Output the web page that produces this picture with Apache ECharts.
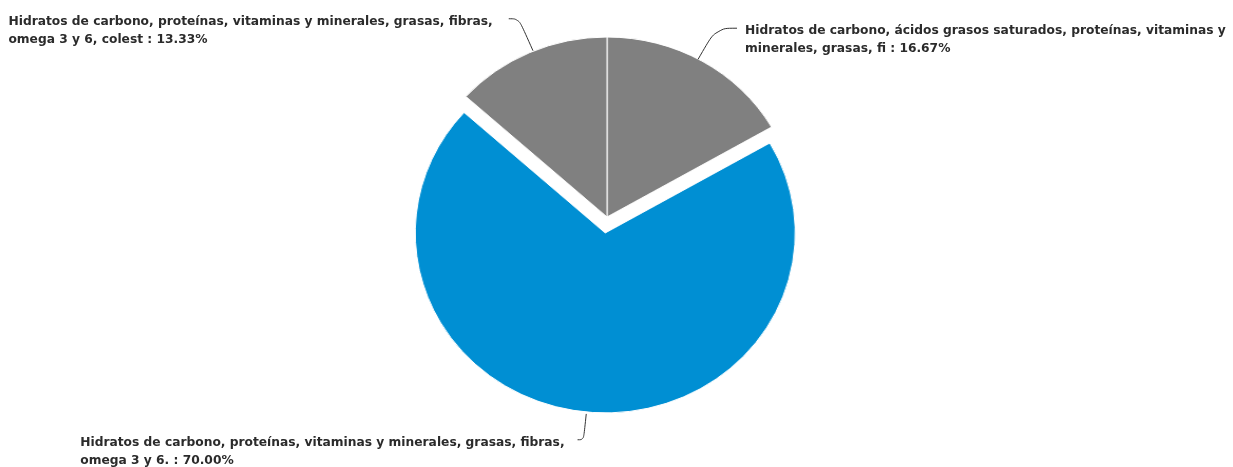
<!DOCTYPE html>
<html>
<head>
<meta charset="utf-8">
<script src="https://cdn.jsdelivr.net/npm/echarts@6/dist/echarts.min.js"></script>
<style>
    html, body {margin: 0; padding: 0; background: #ffffff;}
    .wrap {position: relative; width: 1233px; height: 467px;}
    .layer {position: absolute; left: 0; top: 0; width: 1233px; height: 467px;}
    /* 原图的饼是横向拉伸的椭圆 */
    #pieLayer {transform: scaleX(1.0556); transform-origin: 607px 0;}
</style>
</head>
<body>
<div class="wrap">
    <div id="pieLayer" class="layer"></div>
    <div id="labelLayer" class="layer"></div>
</div>
<script>
    //数据：从顶部开始顺时针
    var names = [
        "Hidratos de carbono, ácidos grasos saturados, proteínas, vitaminas y\nminerales, grasas, fi",
        "Hidratos de carbono, proteínas, vitaminas y minerales, grasas, fibras,\nomega 3 y 6.",
        "Hidratos de carbono, proteínas, vitaminas y minerales, grasas, fibras,\nomega 3 y 6, colest"
    ];
    var values = [16.67, 70.00, 13.33];
    var selectedFlags = [false, true, false];

    var colors = ["#808080", "#008fd3", "#808080"];
    //每个标签的引导线 [length, length2, 文字距离]
    var lineLen = [[36, 21, 8], [26, 6, 13], [35, 10, 16]];

    var pieChart = echarts.init(document.getElementById('pieLayer'));
    var labelChart = echarts.init(document.getElementById('labelLayer'));

    function buildData(showColor) {
        var arr = [];
        names.forEach(function (name, index) {
            arr.push({
                name: name,
                value: values[index],
                selected: selectedFlags[index],
                itemStyle: {color: showColor ? colors[index] : 'rgba(0,0,0,0)'},
                label: {distanceToLabelLine: lineLen[index][2]},
                labelLine: {length: lineLen[index][0], length2: lineLen[index][1]}
            });
        });
        return arr;
    }

    var baseSeries = {
        type: 'pie',
        left: 0,
        top: 0,
        right: -60,
        bottom: 0,
        center: [607, 217],
        startAngle: 90,
        clockwise: true,
        selectedMode: 'multiple',
        selectedOffset: 16,
        avoidLabelOverlap: false,
        emphasis: {disabled: true}
    };

    //底层：只画扇形
    pieChart.setOption({
        animation: false,
        series: [echarts.util.merge({
            radius: [0, 180],
            itemStyle: {borderColor: '#ffffff', borderWidth: 1},
            label: {show: false},
            labelLine: {show: false},
            data: buildData(true)
        }, baseSeries)]
    });

    //上层：透明扇形，只画标签和引导线
    labelChart.setOption({
        animation: false,
        series: [echarts.util.merge({
            radius: [0, 182],
            itemStyle: {borderWidth: 0},
            label: {
                show: true,
                position: 'outside',
                bleedMargin: 0,
                padding: [24, 0, 0, 0],
                formatter: function (p) {
                    //每行左对齐
                    return p.name.split('\n').map(function (line, i, arr) {
                        var text = i === arr.length - 1 ? line + ' : ' + p.value.toFixed(2) + '%' : line;
                        return '{l|' + text + '}';
                    }).join('\n');
                },
                rich: {
                    l: {
                        align: 'left',
                        color: '#2b2b2b',
                        fontFamily: 'DejaVu Sans',
                        fontWeight: 'bold',
                        fontSize: 12.25,
                        lineHeight: 18
                    }
                }
            },
            labelLine: {
                show: true,
                smooth: 0.4,
                lineStyle: {color: '#333333', width: 1}
            },
            data: buildData(false)
        }, baseSeries)]
    });
</script>
</body>
</html>
